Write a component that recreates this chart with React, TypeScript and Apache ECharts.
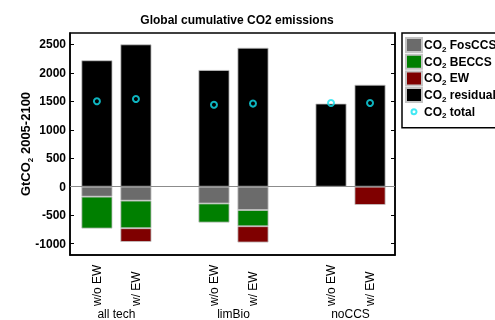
import React, { useEffect, useRef } from 'react';
import * as echarts from 'echarts';

const xPositions = [1, 2, 4, 5, 7, 8];
const barLabels = ['w/o EW', 'w/ EW', 'w/o EW', 'w/ EW', 'w/o EW', 'w/ EW'];
const groupPositions = [1.5, 4.5, 7.5];
const groupLabels = ['all tech', 'limBio', 'noCCS'];
const fosCCS = [-175, -245, -295, -410, 0, 0];
const beccs = [-560, -485, -335, -285, 0, 0];
const ew = [0, -240, 0, -285, 0, -320];
const residual = [2220, 2500, 2050, 2440, 1460, 1790];
const total = [1500, 1540, 1440, 1460, 1470, 1470];
const yTicks = [-1000, -500, 0, 500, 1000, 1500, 2000, 2500];

const FONT = '"Liberation Sans", Arial, Helvetica, sans-serif';
const CYAN = '#12e2f0';

function barSeries(name: string, values: number[], color: string, extra: any = {}) {
  return {
    name,
    type: 'bar',
    stack: 'co2',
    barWidth: 31,
    encode: { x: 1, y: 0 },
    itemStyle: { color, borderColor: '#c4c4c4', borderWidth: 0.8 },
    data: values.map((v, i) =>
      v === 0 ? { value: [0, xPositions[i]], itemStyle: { borderWidth: 0 } } : [v, xPositions[i]]
    ),
    ...extra,
  };
}

export default function App() {
  const ref = useRef<HTMLDivElement>(null);
  useEffect(() => {
    if (!ref.current) return;
    const chart = echarts.init(ref.current, undefined, { renderer: 'svg' });
    const subRich = (w: string) => ({
      s: { fontSize: 8, verticalAlign: 'bottom', fontFamily: FONT, color: '#000', fontWeight: w },
    });
    chart.setOption({
      animation: false,
      textStyle: { fontFamily: FONT },
      title: {
        text: 'Global cumulative CO2 emissions',
        left: 232,
        top: 9,
        textAlign: 'center',
        textStyle: { fontSize: 12, fontWeight: 'bold', color: '#000', fontFamily: FONT },
      },
      grid: {
        left: 70,
        top: 33,
        width: 325,
        height: 222,
        containLabel: false,
        outerBoundsMode: 'none',
        show: true,
        borderColor: '#000',
        borderWidth: 1.5,
        backgroundColor: 'transparent',
      },
      legend: {
        orient: 'vertical',
        left: 402,
        top: 33,
        padding: [4, 40, 8, 3],
        borderColor: '#000',
        borderWidth: 1.5,
        itemWidth: 16,
        itemHeight: 14,
        itemGap: 0.7,
        textStyle: {
          fontSize: 12,
          fontWeight: 'bold',
          color: '#000',
          fontFamily: FONT,
          lineHeight: 16,
          padding: [0, 0, 0, -3],
          rich: subRich('bold'),
        },
        formatter: (name: string) => name.replace('CO2', 'CO{s|2}'),
        data: [
          { name: 'CO2 FosCCS', icon: 'rect' },
          { name: 'CO2 BECCS', icon: 'rect' },
          { name: 'CO2 EW', icon: 'rect' },
          { name: 'CO2 residual', icon: 'rect' },
          {
            name: 'CO2 total',
            icon: 'path://M0,0M16,14M10.5,7A2.5,2.5,0,1,1,5.5,7A2.5,2.5,0,1,1,10.5,7Z',
            itemStyle: { color: 'transparent', borderColor: CYAN, borderWidth: 2 },
          },
        ],
      },
      xAxis: [
        {
          type: 'value',
          min: 0.31,
          max: 8.64,
          position: 'bottom',
          splitLine: { show: false },
          axisLine: { show: true, onZero: false, lineStyle: { color: '#000', width: 1.5 } },
          axisTick: { show: false },
          axisLabel: {
            customValues: xPositions,
            rotate: 90,
            align: 'left',
            verticalAlign: 'middle',
            margin: 51,
            fontSize: 12,
            color: '#000',
            fontFamily: FONT,
            formatter: (v: number) => barLabels[xPositions.indexOf(v)] ?? '',
          },
        },
        {
          type: 'value',
          min: 0.31,
          max: 8.64,
          position: 'bottom',
          splitLine: { show: false },
          axisLine: { show: false },
          axisTick: { show: false },
          axisLabel: {
            customValues: groupPositions,
            margin: 53,
            fontSize: 12,
            color: '#000',
            fontFamily: FONT,
            formatter: (v: number) => groupLabels[groupPositions.indexOf(v)] ?? '',
          },
        },
      ],
      yAxis: [
        {
          type: 'value',
          min: -1200,
          max: 2700,
          position: 'left',
          name: 'GtCO{s|2} 2005-2100',
          nameLocation: 'middle',
          nameGap: 36,
          nameMoveOverlap: false,
          nameTextStyle: {
            fontSize: 13,
            fontWeight: 'bold',
            color: '#000',
            fontFamily: FONT,
            lineHeight: 17,
            rich: subRich('bold'),
          },
          splitLine: { show: false },
          axisLine: { show: true, onZero: false, lineStyle: { color: '#000', width: 1.5 } },
          axisTick: { show: true, inside: true, length: 4, customValues: yTicks, lineStyle: { color: '#000' } },
          axisLabel: {
            customValues: yTicks,
            fontSize: 12,
            fontWeight: 'bold',
            color: '#000',
            fontFamily: FONT,
            margin: 4,
            formatter: (v: number) => String(v),
          },
        },
        {
          type: 'value',
          min: -1200,
          max: 2700,
          position: 'right',
          splitLine: { show: false },
          axisLine: { show: true, onZero: false, lineStyle: { color: '#000', width: 1.5 } },
          axisTick: { show: true, inside: true, length: 4, customValues: yTicks, lineStyle: { color: '#000' } },
          axisLabel: { show: false },
        },
      ],
      series: [
        barSeries('CO2 FosCCS', fosCCS, '#6b6b6b'),
        barSeries('CO2 BECCS', beccs, '#007f00'),
        barSeries('CO2 EW', ew, '#7f0000'),
        barSeries('CO2 residual', residual, '#000000', {
          markLine: {
            silent: true,
            symbol: 'none',
            label: { show: false },
            lineStyle: { color: '#8c8c8c', width: 1, type: 'solid' },
            data: [{ yAxis: 0 }],
          },
        }),
        {
          name: 'CO2 total',
          type: 'scatter',
          symbol: 'circle',
          symbolSize: 6,
          itemStyle: { color: 'transparent', borderColor: CYAN, borderWidth: 2 },
          z: 5,
          data: total.map((v, i) => [xPositions[i], v]),
        },
      ],
    });
    return () => chart.dispose();
  }, []);
  return <div ref={ref} style={{ position: 'fixed', left: 0, top: 0, width: 495, height: 320 }} />;
}
